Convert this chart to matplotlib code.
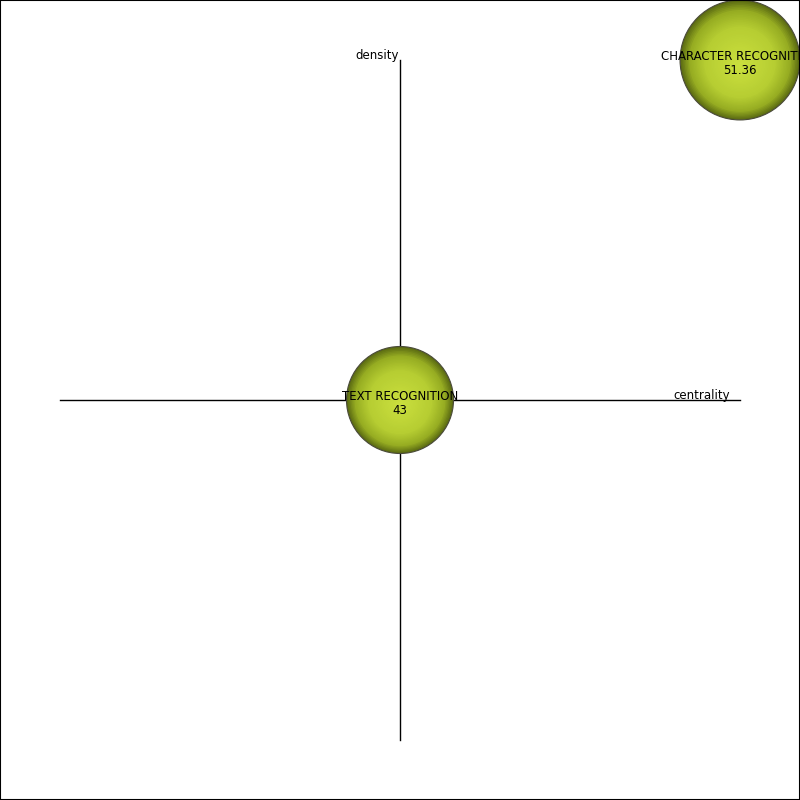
import numpy as np
import matplotlib
matplotlib.use("Agg")
import matplotlib.pyplot as plt
from matplotlib.patches import Circle, Rectangle
from matplotlib.colors import LinearSegmentedColormap

# temas del diagrama estrategico
themes = ["TEXT RECOGNITION", "CHARACTER RECOGNITION"]
centrality = [0.0, 1.0]
density = [0.0, 1.0]
values = [43, 51.36]

fig = plt.figure(figsize=(8, 8), dpi=100)
ax = fig.add_axes([0, 0, 1, 1])
lim = 400 / 340
ax.set_xlim(-lim, lim)
ax.set_ylim(-lim, lim)
ax.set_aspect("equal")
ax.axis("off")

# ejes centrales
ax.plot([-1, 1], [0, 0], color="black", lw=1)
ax.plot([0, 0], [-1, 1], color="black", lw=1)
ax.text(-0.003, 0.994, "density", ha="right", va="bottom", fontsize=8.5)
ax.text(0.97, -0.006, "centrality", ha="right", va="bottom", fontsize=8.5)

cmap = LinearSegmentedColormap.from_list(
    "esfera", [(0, "#cbe03e"), (0.6, "#b6cd32"), (0.85, "#96ac22"), (1, "#5c6c12")])

for name, x, y, v in zip(themes, centrality, density, values):
    r = 53.5 / 340 * (v / 43) ** 0.64
    n = 40
    for i in range(n):
        f = 1 - i / n
        ax.add_patch(Circle((x, y - 0.1 * r * (1 - f)), r * f,
                            color=cmap(f), lw=0, zorder=2))
    ax.add_patch(Circle((x, y), r, fill=False, ec="#4a4a3a", lw=0.8, zorder=3))
    ax.text(x, y - 0.009, name + "\n" + f"{v:g}", ha="center", va="center",
            fontsize=8.5, zorder=4, linespacing=1.1)

# marco
fig.patches.append(Rectangle((0, 0), 1, 1, transform=fig.transFigure,
                             fill=False, ec="black", lw=1.5))

fig.savefig("out.png", dpi=100)
